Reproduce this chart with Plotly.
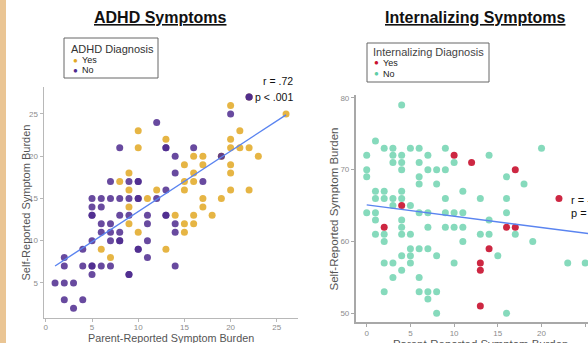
import plotly.graph_objects as go

W, H = 588, 343

# ---------------- data: ADHD panel ----------------
adhd_yes_parent = [10, 13, 10, 16, 17, 15, 17, 16, 15, 16, 15, 9, 8, 9, 11, 9, 17, 18, 14, 16,
                   15, 16, 15, 9, 10, 6, 13, 7, 17, 19, 20, 22, 20, 20, 19, 20, 21, 22, 23, 21,
                   20, 20, 26, 12, 22]
adhd_yes_self = [23, 22, 21, 20, 20, 19, 19, 18, 17, 17, 16, 18, 17, 16, 15, 14, 14, 13, 13, 13,
                 12, 12, 11, 12, 11, 9, 9, 8, 15, 15, 16, 16, 18, 19, 20, 21, 21, 21, 20, 23,
                 22, 26, 25, 16, 27]

adhd_no_parent = [12, 8, 13, 13, 14, 16, 14, 17, 13, 12, 7, 9, 10, 10, 5, 6, 7, 8, 9, 10, 10,
                  5, 6, 5, 5, 8, 9, 11, 13, 13, 6, 7, 11, 14, 6, 7, 8, 14, 5, 7, 8, 8, 11,
                  4, 10, 10, 2, 11, 2, 4, 5, 5, 6, 7, 14, 5, 9, 9, 1, 2, 3, 2, 4, 3,
                  20, 19, 22, 22]
adhd_no_self = [24, 21, 21, 21, 20, 21, 18, 17, 16, 15, 17, 17, 17, 17, 15, 15, 15, 15, 15, 15, 15,
                14, 14, 13, 13, 13, 13, 13, 13, 13, 12, 12, 12, 12, 11, 11, 11, 11, 10, 10, 10, 10, 10,
                9, 9, 9, 8, 8, 7, 7, 7, 7, 7, 7, 7, 6, 6, 6, 5, 5, 5, 3, 3, 2,
                25, 20, 27, 27]

adhd_fit_x = [1, 26]
adhd_fit_y = [7.0, 24.9]

# ---------------- data: Internalizing panel ----------------
int_yes_parent = [10, 12, 17, 22, 4, 2, 16, 17, 14, 13, 13, 13]
int_yes_self = [72, 71, 70, 66, 65, 62, 62, 62, 59, 57, 56, 51]

int_no_parent = [4, 1, 0, 2, 3, 5, 6, 9, 20,
                 3, 4, 7, 14,
                 3, 4, 6, 10,
                 0, 4, 7, 8, 9,
                 0, 6, 16,
                 6, 8, 18,
                 1, 2, 4, 11,
                 1, 2, 3, 4, 9, 13, 16,
                 3, 5,
                 0, 1, 6, 7, 9, 10, 11, 16,
                 1, 4, 14,
                 4, 7, 9, 10, 11,
                 1, 2, 4, 5, 13, 14, 17,
                 2, 11, 19,
                 5, 6, 7,
                 4, 5, 8, 15,
                 2, 3, 5, 10, 23, 25,
                 4,
                 3, 6,
                 2, 6, 7, 8,
                 7,
                 8, 16]
int_no_self = [79, 74, 72, 73, 73, 73, 73, 73, 73,
               72, 72, 72, 72,
               71, 71, 71, 71,
               70, 70, 70, 70, 70,
               69, 69, 69,
               68, 68, 68,
               67, 67, 67, 67,
               66, 66, 66, 66, 66, 66, 66,
               65, 65,
               64, 64, 64, 64, 64, 64, 64, 64,
               63, 63, 63,
               62, 62, 62, 62, 62,
               61, 61, 61, 61, 61, 61, 61,
               60, 60, 60,
               59, 59, 59,
               58, 58, 58, 58,
               57, 57, 57, 57, 57, 57,
               56,
               55, 55,
               53, 53, 53, 53,
               52,
               50, 50]

int_fit_x = [0, 26]
int_fit_y = [65.1, 61.0]

x_ticks_left = [0, 5, 10, 15, 20, 25]
y_ticks_left = [5, 10, 15, 20, 25]
x_ticks_right = [0, 5, 10, 15, 20, 25]
y_ticks_right = [50, 60, 70, 80]

# ---------------- styles ----------------
FONT = "Liberation Sans, Arial, sans-serif"
C_YES_A = "#E2A823"
C_NO_A = "#4E2A8E"
C_YES_I = "#C8102E"
C_NO_I = "#5ECDA6"
C_LINE = "#5A84F0"


def px(x):
    return x / W


def py(y):
    return 1 - y / H


fig = go.Figure()

mk = dict(size=7, opacity=0.85, line=dict(width=0))
fig.add_trace(go.Scatter(x=adhd_yes_parent, y=adhd_yes_self, mode="markers",
                         marker=dict(color=C_YES_A, **mk), xaxis="x", yaxis="y",
                         name="Yes", showlegend=False, cliponaxis=False))
fig.add_trace(go.Scatter(x=adhd_no_parent, y=adhd_no_self, mode="markers",
                         marker=dict(color=C_NO_A, **mk), xaxis="x", yaxis="y",
                         name="No", showlegend=False, cliponaxis=False))
fig.add_trace(go.Scatter(x=adhd_fit_x, y=adhd_fit_y, mode="lines",
                         line=dict(color=C_LINE, width=1.4), xaxis="x", yaxis="y",
                         showlegend=False))

fig.add_trace(go.Scatter(x=int_no_parent, y=int_no_self, mode="markers",
                         marker=dict(color=C_NO_I, size=7, opacity=0.75, line=dict(width=0)),
                         xaxis="x2", yaxis="y2", name="No", showlegend=False))
fig.add_trace(go.Scatter(x=int_yes_parent, y=int_yes_self, mode="markers",
                         marker=dict(color=C_YES_I, size=7, opacity=0.9, line=dict(width=0)),
                         xaxis="x2", yaxis="y2", name="Yes", showlegend=False))
fig.add_trace(go.Scatter(x=int_fit_x, y=int_fit_y, mode="lines",
                         line=dict(color=C_LINE, width=1.4), xaxis="x2", yaxis="y2",
                         showlegend=False))

ax_common = dict(showline=True, ticks="outside", ticklen=3, showgrid=False, zeroline=False,
                 tickfont=dict(family=FONT, size=8, color="#8c8c8c"))

fig.update_layout(
    width=W, height=H,
    margin=dict(l=0, r=0, t=0, b=0),
    paper_bgcolor="white", plot_bgcolor="white",
    font=dict(family=FONT),
    xaxis=dict(domain=[px(43.5), px(297.6)], range=[-0.25, 27.25], tickvals=x_ticks_left,
               anchor="y", linecolor="#b8b8b8", linewidth=1, tickcolor="#b8b8b8",
               ticklabelstandoff=-2, **ax_common),
    yaxis=dict(domain=[py(318.4), py(86.5)], range=[0.8, 28.25], tickvals=y_ticks_left,
               anchor="x", linecolor="#b8b8b8", linewidth=1, tickcolor="#b8b8b8", **ax_common),
    xaxis2=dict(domain=[px(355.7), 1.0], range=[-1.26, 25.32], tickvals=x_ticks_right,
                anchor="y2", linecolor="#a8a8a8", linewidth=1.6, tickcolor="#a8a8a8", **ax_common),
    yaxis2=dict(domain=[py(321.7), py(95)], range=[48.83, 80.4], tickvals=y_ticks_right,
                anchor="x2", linecolor="#a8a8a8", linewidth=1.6, tickcolor="#a8a8a8", **ax_common),
)

shapes = [
    dict(type="rect", xref="paper", yref="paper", x0=0, x1=px(6), y0=0, y1=1,
         fillcolor="#EAC594", line=dict(width=0), layer="above"),
    dict(type="rect", xref="paper", yref="paper", x0=px(64), x1=px(158), y0=py(78), y1=py(38),
         fillcolor="white", line=dict(color="#666666", width=1)),
    dict(type="rect", xref="paper", yref="paper", x0=px(367), x1=px(489), y0=py(82), y1=py(43),
         fillcolor="white", line=dict(color="#666666", width=1)),
]
fig.update_layout(shapes=shapes)


def ann(text, x, y, size, color="#222222", xanchor="center", angle=0):
    fig.add_annotation(text=text, x=px(x), y=py(y), xref="paper", yref="paper",
                       xanchor=xanchor, yanchor="middle", showarrow=False, textangle=angle,
                       font=dict(family=FONT, size=size, color=color))


# panel titles
ann("<b><u>ADHD Symptoms</u></b>", 160, 17, 16, "#111111")
ann("<b><u>Internalizing Symptoms</u></b>", 475, 17, 16, "#111111")

# legends
ann("ADHD Diagnosis", 69, 48.5, 11, "#333333", "left")
ann("●", 75, 60, 8, C_YES_A)
ann("Yes", 79.5, 60, 9, "#222222", "left")
ann("●", 75, 70, 8, C_NO_A)
ann("No", 79.5, 70, 9, "#222222", "left")

ann("Internalizing Diagnosis", 371, 52, 11, "#444444", "left")
ann("●", 376, 62.7, 8, C_YES_I)
ann("Yes", 381, 62.7, 9, "#222222", "left")
ann("●", 376, 74, 8, C_NO_I)
ann("No", 381, 74, 9, "#222222", "left")

# correlation labels
ann("r = .72", 295, 81, 10.5, "#111111", "right")
ann("p < .001", 295, 96.7, 10.5, "#111111", "right")
ann("r = -.15", 569, 200, 11, "#111111", "left")
ann("p = .08", 569, 213.3, 11, "#111111", "left")

# axis titles
ann("Self-Reported Symptom Burden", 25.5, 203, 11, "#555555", angle=-90)
ann("Parent-Reported Symptom Burden", 170.8, 337.5, 10.8, "#555555")
ann("Self-Reported Symptom Burden", 333.5, 209, 11.5, "#555555", angle=-90)
ann("Parent-Reported Symptom Burden", 480, 343.5, 11.4, "#555555")

fig.write_html("out.html", config={"displayModeBar": False},
               post_script="document.body.style.margin='0';document.body.style.overflow='hidden';")
